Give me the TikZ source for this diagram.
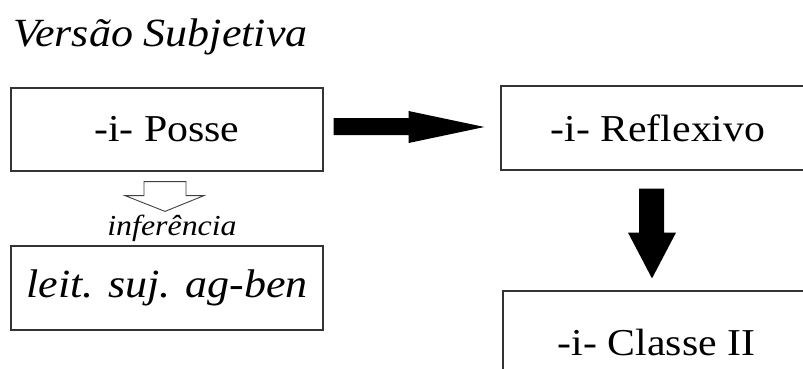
\documentclass[tikz,border=0pt]{standalone}
\usepackage{fontspec}
\setmainfont{Liberation Serif}[FakeStretch=1.1]
\usetikzlibrary{calc}
\tikzset{
  box/.style={draw=black!80, line width=1.2pt, rectangle, inner sep=0pt,
    font=\fontsize{38}{40}\selectfont},
  itbox/.style={box, font=\fontsize{40}{42}\selectfont\itshape},
  solidarrow/.style={fill=black, draw=none},
  hollow/.style={draw=black!75, line width=0.9pt, fill=white, line join=miter}
}
\begin{document}
\begin{tikzpicture}[x=1pt,y=-1pt]
  \useasboundingbox (0,0) rectangle (803,369);
  \clip (0,0) rectangle (803,369);

  % heading
  \node[anchor=base west, inner sep=0pt, font=\fontsize{40}{42}\selectfont\itshape]
    (title) at (13,47) {Versão Subjetiva};

  % boxes
  \node[box, minimum width=312pt, minimum height=83pt] (posse) at (167,129.5) {-i- Posse\hspace{14pt}};
  \node[box, minimum width=314pt, minimum height=84pt] (reflexivo) at (658,128) {-i- Reflexivo};
  \node[box, minimum width=307pt, minimum height=102pt] (classe) at (656.5,342) {-i- Classe II};
  \node[itbox, minimum width=312pt, minimum height=84pt] (leit) at (167,288) {leit. suj. ag-ben};

  % block arrow from Posse to Reflexivo
  \fill[solidarrow]
    ($(posse.east)+(10,-11.5)$) -- ($(posse.east)+(85,-11.5)$) -- ($(posse.east)+(85,-18.5)$)
    -- ($(reflexivo.west)+(-16,-1)$)
    -- ($(posse.east)+(85,13.5)$) -- ($(posse.east)+(85,5.5)$) -- ($(posse.east)+(10,5.5)$) -- cycle;

  % block arrow from Reflexivo to Classe II
  \fill[solidarrow]
    ($(reflexivo.south)+(-19,18)$) -- ($(reflexivo.south)+(6,18)$) -- ($(reflexivo.south)+(6,62)$)
    -- ($(reflexivo.south)+(18,62)$)
    -- ($(classe.north)+(-4.5,-12)$)
    -- ($(reflexivo.south)+(-30,62)$) -- ($(reflexivo.south)+(-19,62)$) -- cycle;

  % hollow inference arrow
  \draw[hollow]
    ($(posse.south)+(-23,10)$) -- ($(posse.south)+(19,10)$) -- ($(posse.south)+(19,24)$)
    -- ($(posse.south)+(37,24)$) -- ($(leit.north)+(-2,-34)$) -- ($(posse.south)+(-42,24)$)
    -- ($(posse.south)+(-23,24)$) -- cycle;
  \node[anchor=base, inner sep=0pt, font=\fontsize{29}{30}\selectfont\itshape]
    (infer) at (172,235) {inferência};
\end{tikzpicture}
\end{document}
